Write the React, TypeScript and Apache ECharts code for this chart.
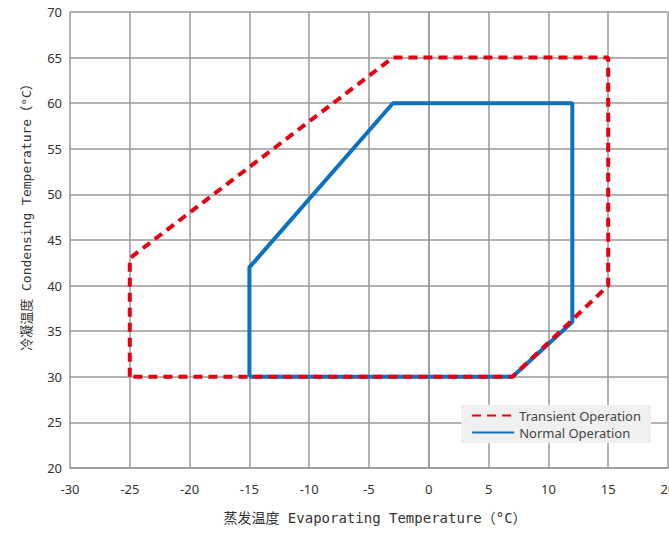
import React, { useEffect, useRef } from "react";
import * as echarts from "echarts";

const transientOperation: [number, number][] = [
  [-25, 30], [-25, 43], [-3, 65], [15, 65], [15, 40], [7, 30], [-25, 30],
];
const normalOperation: [number, number][] = [
  [-15, 30], [-15, 42], [-3, 60], [12, 60], [12, 36], [7, 30], [-15, 30],
];
const seriesNames = ["Transient Operation", "Normal Operation"];
const xAxisTitle = "蒸发温度 Evaporating Temperature（°C）";
const yAxisTitle = "冷凝温度 Condensing Temperature（°C）";

export default function App() {
  const ref = useRef<HTMLDivElement>(null);
  useEffect(() => {
    if (!ref.current) return;
    const chart = echarts.init(ref.current, undefined, { renderer: "svg" });
    const gridLine = { show: true, lineStyle: { color: "#999", width: 1.5 } };
    const labelStyle = { color: "#333", fontSize: 13, fontFamily: "Noto Sans, sans-serif" };
    const titleFont = "DejaVu Sans Mono, Noto Sans CJK SC, monospace";
    chart.setOption({
      animation: false,
      backgroundColor: "#fff",
      grid: { left: 70, right: 1, top: 12, bottom: 65, containLabel: false, outerBoundsMode: "none" },
      xAxis: {
        type: "value",
        min: -30,
        max: 20,
        interval: 5,
        axisLine: { show: true, lineStyle: { color: "#999", width: 1.5 } },
        axisTick: { show: false },
        splitLine: gridLine,
        axisLabel: { ...labelStyle, margin: 14 },
      },
      yAxis: {
        type: "value",
        min: 20,
        max: 70,
        interval: 5,
        axisLine: { show: true, lineStyle: { color: "#999", width: 1.5 } },
        axisTick: { show: false },
        splitLine: gridLine,
        axisLabel: { ...labelStyle, margin: 8 },
      },
      graphic: [
        {
          type: "text",
          x: 375,
          y: 518,
          style: {
            text: xAxisTitle,
            fill: "#333",
            fontSize: 14,
            fontFamily: titleFont,
            textAlign: "center",
            textVerticalAlign: "middle",
          },
        },
        {
          type: "text",
          x: 26,
          y: 214,
          rotation: Math.PI / 2,
          style: {
            text: yAxisTitle,
            fill: "#333",
            fontSize: 13,
            fontFamily: titleFont,
            textAlign: "center",
            textVerticalAlign: "middle",
          },
        },
      ],
      legend: {
        orient: "vertical",
        right: 18,
        bottom: 90,
        backgroundColor: "#f0f0f0",
        padding: [4, 10, 4, 10],
        itemGap: 4,
        itemWidth: 42,
        itemHeight: 12,
        data: [seriesNames[0], seriesNames[1]],
        itemStyle: { opacity: 0 },
        lineStyle: { width: 2 },
        textStyle: { color: "#444", fontSize: 13, fontFamily: "Noto Sans, sans-serif" },
      },
      series: [
        {
          name: seriesNames[1],
          type: "line",
          data: normalOperation,
          symbol: "none",
          lineStyle: { color: "#0a72c0", width: 4, type: "solid" },
          itemStyle: { color: "#0a72c0" },
          z: 2,
        },
        {
          name: seriesNames[0],
          type: "line",
          data: transientOperation,
          symbol: "none",
          lineStyle: { color: "#e60012", width: 4, type: [9, 6] },
          itemStyle: { color: "#e60012" },
          z: 3,
        },
      ],
    });
    return () => chart.dispose();
  }, []);
  return <div ref={ref} style={{ width: 669, height: 533, position: "absolute", left: 0, top: 0 }} />;
}
